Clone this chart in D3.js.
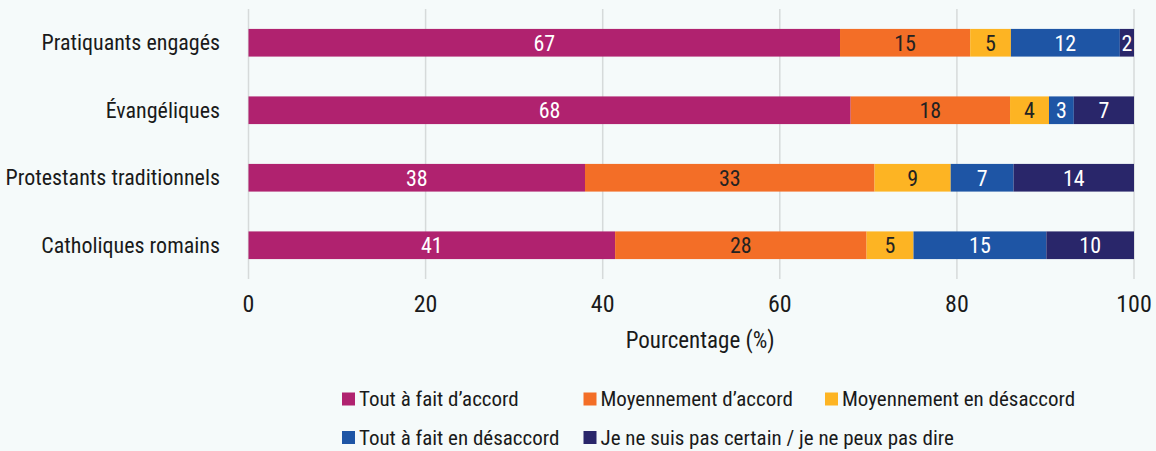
<!DOCTYPE html>
<html>
<head>
<meta charset="utf-8">
<script src="https://cdn.jsdelivr.net/npm/d3@7"></script>
<style>
  body { margin: 0; background: #F5FAFA; }
  svg { display: block; }
  text { font-family: "Roboto Condensed", "DejaVu Sans Condensed", sans-serif; }
</style>
</head>
<body>
<div id="main"></div>
<script>
/// Data ///
var groups = ['Pratiquants engagés', 'Évangéliques', 'Protestants traditionnels', 'Catholiques romains'];
var answers = ['Tout à fait d’accord', 'Moyennement d’accord', 'Moyennement en désaccord',
               'Tout à fait en désaccord', 'Je ne suis pas certain / je ne peux pas dire'];

// one list per answer, in the order of groups
var toutAccord     = [66.8, 68.0, 38.0, 41.4];
var moyenAccord    = [14.7, 18.0, 32.7, 28.4];
var moyenDesaccord = [4.6, 4.4, 8.6, 5.3];
var toutDesaccord  = [12.3, 2.8, 7.1, 15.0];
var nePeuxDire     = [1.6, 6.8, 13.6, 9.9];

var xTicks = [0, 20, 40, 60, 80, 100];
var colors = ['#B0226F', '#F36E27', '#FDB423', '#1E55A5', '#29266A'];
var labelColors = ['#fff', '#222', '#222', '#fff', '#fff'];

const w = 1156;
const h = 451;

const svg = d3.select('#main')
            .append('svg')
            .attr('width', w)
            .attr('height', h);

// build rows for the stack
let rows = groups.map(function(g, i) {
    return {
        group: g,
        a0: toutAccord[i],
        a1: moyenAccord[i],
        a2: moyenDesaccord[i],
        a3: toutDesaccord[i],
        a4: nePeuxDire[i]
    };
});
let keys = ['a0', 'a1', 'a2', 'a3', 'a4'];
let series = d3.stack().keys(keys)(rows);

const x = d3.scaleLinear()
            .domain([0, 100])
            .range([248.5, 1134]);

const y = d3.scaleBand()
            .domain(groups)
            .range([9, 279])
            .paddingInner(0.59)
            .paddingOuter(0.295);

// grid lines
svg.append('g')
    .selectAll('line')
    .data(xTicks)
    .enter()
    .append('line')
    .attr('x1', d => x(d))
    .attr('x2', d => x(d))
    .attr('y1', 9)
    .attr('y2', 279)
    .style('stroke', '#D6DADA')
    .style('stroke-width', 1.5);

// tick labels
svg.append('g')
    .selectAll('text')
    .data(xTicks)
    .enter()
    .append('text')
    .attr('x', d => x(d))
    .attr('y', 312)
    .attr('text-anchor', 'middle')
    .style('font-size', '24px')
    .style('fill', '#1a1a1a')
    .text(d => d);

// axis title
svg.append('text')
    .attr('x', x(51))
    .attr('y', 348)
    .attr('text-anchor', 'middle')
    .style('font-size', '23px')
    .style('fill', '#1a1a1a')
    .text('Pourcentage (%)');

// category labels
svg.append('g')
    .selectAll('text')
    .data(groups)
    .enter()
    .append('text')
    .attr('x', 220)
    .attr('y', d => y(d) + y.bandwidth() / 2)
    .attr('dy', '0.35em')
    .attr('text-anchor', 'end')
    .style('font-size', '22px')
    .style('fill', '#1a1a1a')
    .text(d => d);

// bars
let layer = svg.append('g')
    .selectAll('g')
    .data(series)
    .enter()
    .append('g')
    .style('fill', (d, i) => colors[i]);

layer.selectAll('rect')
    .data(d => d)
    .enter()
    .append('rect')
    .attr('x', d => x(d[0]))
    .attr('y', d => y(d.data.group))
    .attr('width', d => x(d[1]) - x(d[0]))
    .attr('height', y.bandwidth());

// values in the bars
svg.append('g')
    .selectAll('g')
    .data(series)
    .enter()
    .append('g')
    .style('fill', (d, i) => labelColors[i])
    .selectAll('text')
    .data(d => d)
    .enter()
    .append('text')
    .attr('x', d => x((d[0] + d[1]) / 2))
    .attr('y', d => y(d.data.group) + y.bandwidth() / 2)
    .attr('dy', '0.36em')
    .attr('text-anchor', 'middle')
    .style('font-size', '22px')
    .text(d => Math.round(d[1] - d[0]));

/// Legend ///
const colW = 241.5;
let legend = svg.append('g')
    .selectAll('g')
    .data(answers)
    .enter()
    .append('g')
    .attr('transform', (d, i) => 'translate(' + (342 + (i % 3) * colW) + ',' + (399 + Math.floor(i / 3) * 38.5) + ')');

legend.append('rect')
    .attr('x', 0)
    .attr('y', -6.5)
    .attr('width', 13)
    .attr('height', 13)
    .style('fill', (d, i) => colors[i]);

legend.append('text')
    .attr('x', 17)
    .attr('dy', '0.35em')
    .style('font-size', '21px')
    .style('fill', '#1a1a1a')
    .text(d => d);
</script>
</body>
</html>
